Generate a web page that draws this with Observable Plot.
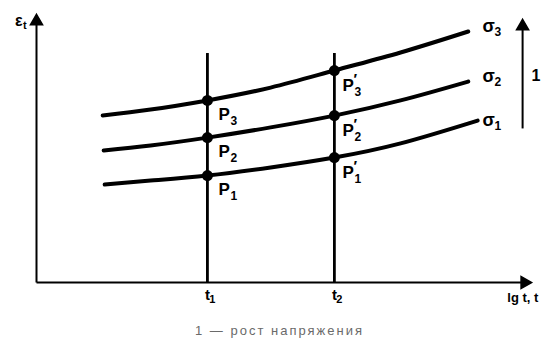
<!DOCTYPE html>
<html><head><meta charset="utf-8">
<script src="https://cdn.jsdelivr.net/npm/d3@7"></script>
<script src="https://cdn.jsdelivr.net/npm/@observablehq/plot@0.6"></script>
<style>
html,body{margin:0;padding:0;background:#fff}
figure{margin:0 !important;padding:0}
figcaption{margin:0;padding:5px 0 0 18px;text-align:center;font:13px "Liberation Sans",Arial,sans-serif;line-height:16px;color:#6a6a6a;letter-spacing:2px}
</style></head><body><div id="chart"></div>
<script>
// ---- data (x: lg t units, y: strain units) ----
const sigmaNames = ["σ", "σ", "σ"];
const sigmaSubs = ["1", "2", "3"];
const sigma1X = [1.38, 2.31, 3.46, 4.74, 6.03, 7.37, 8.93];
const sigma1Y = [3.74, 3.89, 4.08, 4.39, 4.77, 5.31, 6.18];
const sigma2X = [1.36, 2.31, 3.46, 4.74, 6.03, 7.37, 8.74];
const sigma2Y = [5.04, 5.23, 5.53, 5.92, 6.37, 6.95, 7.67];
const sigma3X = [1.34, 2.31, 3.46, 4.74, 6.03, 7.37, 8.74];
const sigma3Y = [6.37, 6.60, 6.95, 7.44, 8.09, 8.78, 9.58];
const sigmaLabelX = [9.03, 9.03, 9.03];
const sigmaLabelY = [6.11, 7.79, 9.69];
const tickX = [3.46, 6.03];
const tickLabels = ["t", "t"];
const tickSubs = ["1", "2"];
const tickLineTop = 8.74;
const pointNames = ["P", "P", "P"];
const pointSubs = ["1", "2", "3"];
const xLabel = "lg t, t";
const xLabelRight = 10.16;
const xAxisEnd = 10.0;
const yLabel = "ε";
const yLabelSub = "t";
const yAxisEnd = 10.19;
const growthArrowX = 9.84;
const growthArrowY = [5.88, 10.0];
const growthLabel = "1";
const growthLabelY = 7.9;
const caption = "1 — рост напряжения";

// ---- build ----
const series = [[sigma1X, sigma1Y], [sigma2X, sigma2Y], [sigma3X, sigma3Y]];
const curves = series.flatMap(([xs, ys], i) => xs.map((x, j) => ({x, y: ys[j], s: i})));
const pts1 = series.map(([xs, ys], i) => ({x: tickX[0], y: ys[xs.indexOf(tickX[0])], sub: pointSubs[i]}));
const pts2 = series.map(([xs, ys], i) => ({x: tickX[1], y: ys[xs.indexOf(tickX[1])], sub: pointSubs[i]}));
const allPts = pts1.concat(pts2);
const sigLabels = sigmaNames.map((n, i) => ({x: sigmaLabelX[i], y: sigmaLabelY[i], n, sub: sigmaSubs[i]}));
const ticks = tickX.map((x, i) => ({x, t: tickLabels[i], sub: tickSubs[i]}));

const bold = {fontFamily: "Liberation Sans, Arial, sans-serif", fontWeight: "bold", fill: "black"};

const chart = Plot.plot({
  width: 541, height: 318,
  marginLeft: 36, marginRight: 11, marginTop: 20, marginBottom: 36,
  x: {domain: [0, 10], axis: null},
  y: {domain: [0, 10], axis: null},
  caption: caption,
  style: {background: "white", overflow: "visible"},
  marks: [
    // axes
    Plot.link([{x1: 0, y1: 0, x2: xAxisEnd - 0.1, y2: 0}], {x1: "x1", y1: "y1", x2: "x2", y2: "y2", stroke: "black", strokeWidth: 2}),
    Plot.link([{x1: 0, y1: 0, x2: 0, y2: yAxisEnd - 0.2}], {x1: "x1", y1: "y1", x2: "x2", y2: "y2", stroke: "black", strokeWidth: 2}),
    Plot.dot([{x: xAxisEnd - 0.12, y: 0}], {x: "x", y: "y", symbol: "triangle", r: 4.5, rotate: 90, fill: "black", stroke: "black"}),
    Plot.dot([{x: 0, y: yAxisEnd - 0.22}], {x: "x", y: "y", symbol: "triangle", r: 4.5, fill: "black", stroke: "black"}),
    // vertical time lines
    Plot.ruleX(ticks, {x: "x", y1: 0, y2: tickLineTop, stroke: "black", strokeWidth: 2.8}),
    // curves
    Plot.line(curves, {x: "x", y: "y", z: "s", curve: "natural", stroke: "black", strokeWidth: 4}),
    // intersection points
    Plot.dot(allPts, {x: "x", y: "y", r: 5.5, fill: "black"}),
    // point labels
    Plot.text(pts1, {x: "x", y: "y", text: () => "P", dx: 11, dy: 14, textAnchor: "start", fontSize: 17, ...bold}),
    Plot.text(pts1, {x: "x", y: "y", text: "sub", dx: 23, dy: 21, textAnchor: "start", fontSize: 12, ...bold}),
    Plot.text(pts2, {x: "x", y: "y", text: () => "P", dx: 8, dy: 15, textAnchor: "start", fontSize: 17, ...bold}),
    Plot.text(pts2, {x: "x", y: "y", text: () => "′", dx: 19, dy: 9, textAnchor: "start", fontSize: 15, ...bold}),
    Plot.text(pts2, {x: "x", y: "y", text: "sub", dx: 20, dy: 22, textAnchor: "start", fontSize: 12, ...bold}),
    // sigma labels
    Plot.text(sigLabels, {x: "x", y: "y", text: "n", dy: -2, textAnchor: "start", fontSize: 18, ...bold}),
    Plot.text(sigLabels, {x: "x", y: "y", text: "sub", dx: 12, dy: 4, textAnchor: "start", fontSize: 12, ...bold}),
    // tick labels
    Plot.text(ticks, {x: "x", y: 0, text: "t", dy: 13, textAnchor: "middle", fontSize: 15, ...bold}),
    Plot.text(ticks, {x: "x", y: 0, text: "sub", dx: 5, dy: 17, textAnchor: "middle", fontSize: 11, ...bold}),
    Plot.text([xLabel], {x: xLabelRight, y: 0, text: d => d, dy: 15, textAnchor: "end", fontSize: 13, ...bold}),
    Plot.text([yLabel], {x: -0.36, y: 10.0, text: d => d, textAnchor: "middle", fontSize: 16, ...bold}),
    Plot.text([yLabelSub], {x: -0.36, y: 10.0, text: d => d, dx: 6, dy: 5, textAnchor: "middle", fontSize: 11, ...bold}),
    // growth arrow
    Plot.link([{x1: growthArrowX, y1: growthArrowY[0], x2: growthArrowX, y2: growthArrowY[1] - 0.2}], {x1: "x1", y1: "y1", x2: "x2", y2: "y2", stroke: "black", strokeWidth: 2}),
    Plot.dot([{x: growthArrowX, y: growthArrowY[1] - 0.22}], {x: "x", y: "y", symbol: "triangle", r: 4.5, fill: "black", stroke: "black"}),
    Plot.text([growthLabel], {x: growthArrowX, y: growthLabelY, text: d => d, dx: 9, textAnchor: "start", fontSize: 16, ...bold})
  ]
});
document.getElementById("chart").appendChild(chart);
</script></body></html>
